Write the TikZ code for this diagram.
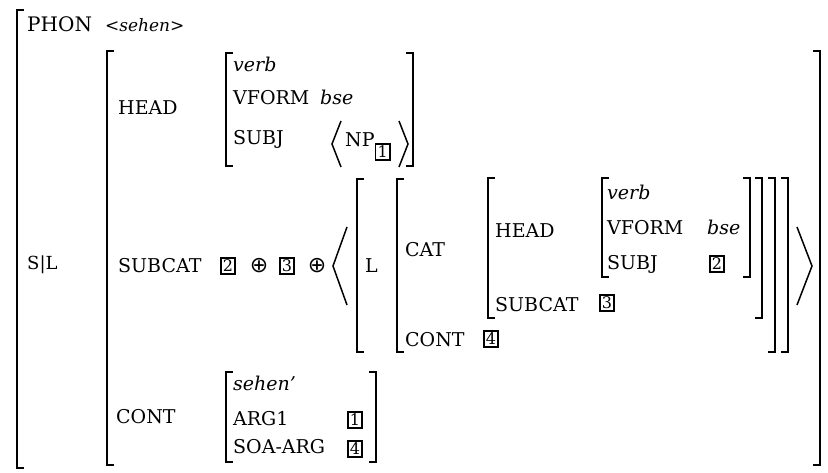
\documentclass[tikz,border=0pt]{standalone}
\usepackage{fontspec}
\setmainfont{DejaVu Serif}
\newfontfamily\symfont{DejaVu Sans}
\newcommand{\tg}[1]{{\setlength{\fboxsep}{1.3pt}\setlength{\fboxrule}{1.3pt}\fbox{\fontsize{16}{16}\selectfont #1}}}
\newcommand{\lbrk}[3]{\draw[brk] (#1+7,#2) -- (#1,#2) -- (#1,#3) -- (#1+7,#3);}
\newcommand{\rbrk}[3]{\draw[brk] (#1-7,#2) -- (#1,#2) -- (#1,#3) -- (#1-7,#3);}

\begin{document}
\begin{tikzpicture}[x=1pt,y=-1pt]
    \tikzstyle{brk}=[line width=2.8pt]
    \tikzstyle{ang}=[line width=1.5pt]
    \tikzstyle{attr}=[anchor=base west, inner sep=0pt, font=\fontsize{19}{22}\selectfont]
    \tikzstyle{val}=[attr, font=\fontsize{19}{22}\selectfont\itshape]
    \tikzstyle{tag}=[inner sep=0pt, font=\fontsize{19}{22}\selectfont]
    \useasboundingbox (0,0) rectangle (828,473);
    \lbrk{17}{10}{468}
    \draw (27,32) node[attr, font=\fontsize{20}{22}\selectfont] (phon) {PHON};
    \draw (105,32) node[attr, font=\fontsize{17}{18}\selectfont] (phonv) {<\textit{sehen}>};
    \draw (27,270) node[attr, font=\fontsize{18}{20}\selectfont] (sl) {S|L};
    \lbrk{107}{51}{465}
    \rbrk{820}{51}{465}
    \draw (118,115) node[attr] (head) {HEAD};
    \lbrk{226}{53}{166}
    \rbrk{413}{53}{166}
    \draw (233,72) node[val] (verb) {verb};
    \draw (233,105) node[attr] (vform) {VFORM};
    \draw (320,105) node[val] (bse) {bse};
    \draw (233,145) node[attr] (subj) {SUBJ};
    \draw[ang] (341,121) -- (332,144) -- (341,167);
    \draw (345,147) node[attr] (np) {NP};
    \draw (np.base east) ++(8,5) node[tag] (t1a) {\tg{1}};
    \draw[ang] (399,121) -- (408,144) -- (399,167);
    \draw (118,273) node[attr] (subcat) {SUBCAT};
    \draw (228,266) node[tag] (t2a) {\tg{2}};
    \draw (259,266) node[tag, font=\fontsize{22}{22}\selectfont] (pl1) {\symfont ⊕};
    \draw (287,266) node[tag] (t3a) {\tg{3}};
    \draw (317,266) node[tag, font=\fontsize{22}{22}\selectfont] (pl2) {\symfont ⊕};
    \draw[ang] (347,227) -- (333,266) -- (347,305);
    \lbrk{357}{179}{352}
    \draw (365,273) node[attr] (l) {L};
    \lbrk{397}{179}{352}
    \draw (405,257) node[attr] (cat) {CAT};
    \draw (405,347) node[attr] (icont) {CONT};
    \draw (491,339) node[tag] (t4a) {\tg{4}};
    \lbrk{488}{178}{318}
    \draw (495,238) node[attr] (ihead) {HEAD};
    \draw (495,312) node[attr] (isubcat) {SUBCAT};
    \draw (607,303) node[tag] (t3b) {\tg{3}};
    \lbrk{602}{178}{277}
    \draw (607,200) node[val] (iverb) {verb};
    \draw (607,235) node[attr] (ivform) {VFORM};
    \draw (707,235) node[val] (ibse) {bse};
    \draw (607,270) node[attr] (isubj) {SUBJ};
    \draw (717,264) node[tag] (t2b) {\tg{2}};
    \rbrk{750}{178}{277}
    \rbrk{762}{178}{318}
    \rbrk{775}{178}{352}
    \rbrk{788}{178}{352}
    \draw[ang] (797,227) -- (812,266) -- (797,305);
    \draw (116,423) node[attr] (cont) {CONT};
    \lbrk{226}{372}{462}
    \rbrk{376}{372}{462}
    \draw (233,390) node[val] (sehen) {sehen'};
    \draw (233,425) node[attr] (arg) {ARG1};
    \draw (233,453) node[attr] (soa) {SOA-ARG};
    \draw (355,420) node[tag] (t1b) {\tg{1}};
    \draw (355,449) node[tag] (t4b) {\tg{4}};
\end{tikzpicture}
\end{document}
